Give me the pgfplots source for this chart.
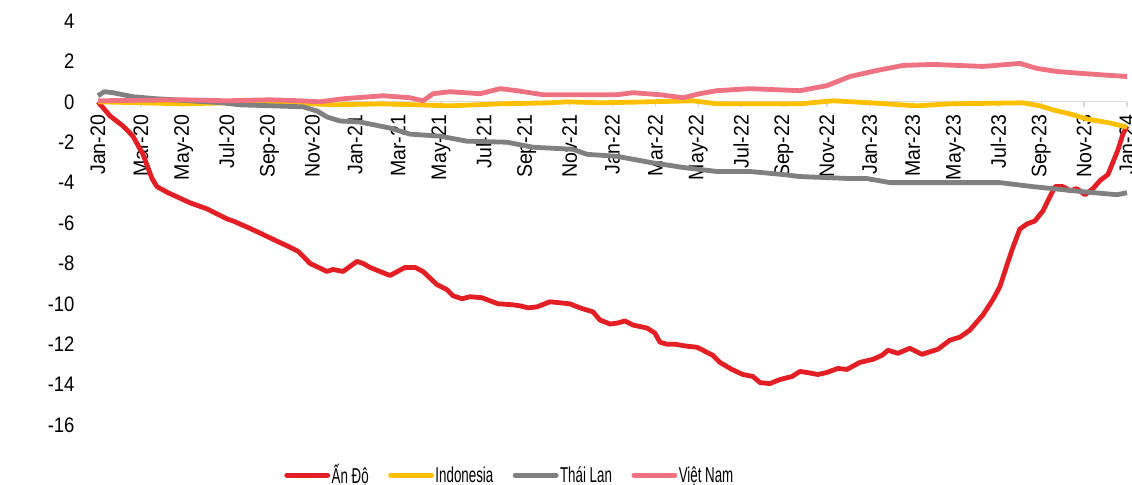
\documentclass[border=0pt]{standalone}
\usepackage{pgfplots}
\pgfplotsset{compat=1.18}
\usepackage{fontspec}
\setmainfont{Liberation Sans}[FakeStretch=0.88]
\newfontfamily\xfont{Liberation Sans}[FakeStretch=0.93]
\newfontfamily\legfont{Liberation Sans}[FakeStretch=0.62]

\definecolor{cIndia}{RGB}{227,30,36}
\definecolor{cIndo}{RGB}{255,192,0}
\definecolor{cThai}{RGB}{128,128,128}
\definecolor{cViet}{RGB}{239,114,130}

\begin{document}
\begin{tikzpicture}
\begin{axis}[
  name=ax,
  scale only axis,
  width=1029pt, height=404pt,
  xmin=0, xmax=48, ymin=-16, ymax=4,
  axis x line=middle,
  axis y line=left,
  hide obscured x ticks=false,
  x axis line style={-, draw=gray!30, line width=1.3pt},
  y axis line style={draw=none},
  xtick={0,2,...,48},
  xticklabels={Jan-20,Mar-20,May-20,Jul-20,Sep-20,Nov-20,
               Jan-21,Mar-21,May-21,Jul-21,Sep-21,Nov-21,
               Jan-22,Mar-22,May-22,Jul-22,Sep-22,Nov-22,
               Jan-23,Mar-23,May-23,Jul-23,Sep-23,Nov-23,Jan-24},
  x tick style={draw=gray!30, line width=1.3pt},
  tick align=outside,
  major tick length=5pt,
  xticklabel style={rotate=90, anchor=east, font=\xfont\fontsize{21}{25}\selectfont, inner sep=8pt},
  ytick={4,2,...,-16},
  y tick style={draw=none},
  yticklabel style={font=\fontsize{21}{25}\selectfont, xshift=-15pt},
  /pgf/number format/assume math mode=true,
  clip=false,
  legend columns=4,
  legend style={at={(0.4,-0.124)}, anchor=center, draw=none, fill=none,
    font=\legfont\fontsize{21.5}{25}\selectfont,
    nodes={inner sep=1.5pt},
    /tikz/every even column/.append style={column sep=18pt}},
  legend image code/.code={\draw[#1, line cap=round] (0pt,0pt) -- (41pt,0pt);},
  every axis plot/.append style={line width=4.8pt, line join=round, no marks},
]

% India
\addplot[cIndia] coordinates {
(0,0) (0.56,-0.7) (1.17,-1.2) (1.63,-1.7) (2.10,-2.6) (2.52,-3.8) (2.75,-4.2)
(3.26,-4.5) (3.68,-4.7) (4.29,-5.0) (5.08,-5.3) (6.02,-5.8) (6.30,-5.9)
(6.95,-6.2) (7.56,-6.5) (8.35,-6.9) (8.96,-7.2) (9.33,-7.4) (9.89,-8.0)
(10.68,-8.4) (10.96,-8.3) (11.43,-8.4) (12.08,-7.9) (12.36,-8.0) (12.69,-8.2)
(13.62,-8.6) (14.32,-8.2) (14.79,-8.2) (15.16,-8.4) (15.81,-9.05) (16.28,-9.3)
(16.56,-9.6) (16.98,-9.75) (17.35,-9.65) (17.91,-9.7) (18.28,-9.85) (18.66,-10.0)
(19.36,-10.05) (19.68,-10.1) (20.06,-10.2) (20.48,-10.15) (21.08,-9.9) (21.55,-9.95)
(22.01,-10.0) (22.48,-10.2) (23.09,-10.4) (23.41,-10.8) (23.88,-11.0) (24.25,-10.95)
(24.58,-10.85) (24.95,-11.05) (25.61,-11.2) (25.98,-11.45) (26.21,-11.9) (26.54,-12.0)
(26.91,-12.0) (27.47,-12.1) (27.94,-12.15) (28.68,-12.55) (29.01,-12.9) (29.57,-13.25)
(30.08,-13.5) (30.55,-13.6) (30.88,-13.9) (31.34,-13.95) (31.81,-13.75) (32.37,-13.6)
(32.74,-13.35) (33.07,-13.4) (33.58,-13.5) (34.00,-13.4) (34.51,-13.2) (34.93,-13.25)
(35.54,-12.9) (36.15,-12.75) (36.57,-12.55) (36.85,-12.3) (37.31,-12.45) (37.87,-12.2)
(38.43,-12.5) (39.18,-12.25) (39.74,-11.8) (40.21,-11.65) (40.67,-11.3) (41.28,-10.55)
(41.74,-9.8) (42.07,-9.15) (42.44,-7.95) (42.68,-7.2) (43.00,-6.3) (43.33,-6.05)
(43.70,-5.9) (44.08,-5.4) (44.40,-4.7) (44.64,-4.2) (45.01,-4.2) (45.34,-4.4)
(45.66,-4.3) (46.04,-4.6) (46.41,-4.3) (46.74,-3.9) (47.11,-3.6) (47.34,-3.0)
(47.57,-2.4) (47.81,-1.6) (48.0,-1.2)
};
\addlegendentry{Ấn Độ}

% Indonesia
\addplot[cIndo] coordinates {
(0,0) (2,-0.05) (4,-0.1) (6,-0.05) (8,-0.05) (10,-0.1) (10.96,-0.15)
(13.29,-0.1) (16.42,-0.2) (18.75,-0.1) (21.08,-0.05) (21.88,0) (23.41,-0.05)
(25.75,0) (27.75,0.05) (28.87,-0.1) (30.88,-0.1) (32.74,-0.1) (34.28,0.05)
(36.0,-0.05) (38.2,-0.2) (39.74,-0.1) (43.14,-0.05) (43.94,-0.2) (44.54,-0.4)
(45.34,-0.6) (46.13,-0.85) (47.2,-1.05) (48.0,-1.25)
};
\addlegendentry{Indonesia}

% Thailand
\addplot[cThai] coordinates {
(0,0.3) (0.3,0.5) (0.70,0.45) (1.63,0.25) (2.75,0.15) (4.29,0.05) (5.83,-0.05)
(6.62,-0.15) (8.16,-0.2) (9.56,-0.25) (10.21,-0.45) (10.68,-0.75) (11.29,-0.95)
(12.22,-1.0) (13.15,-1.2) (13.62,-1.3) (14.55,-1.6) (15.95,-1.7) (17.21,-1.95)
(19.08,-2.0) (20.29,-2.25) (22.15,-2.35) (22.81,-2.6) (24.21,-2.7) (25.75,-3.0)
(27.29,-3.25) (28.87,-3.45) (30.41,-3.45) (31.95,-3.6) (32.74,-3.7) (35.07,-3.8)
(35.87,-3.8) (36.94,-4.0) (39.74,-4.0) (42.07,-4.0) (43.61,-4.2) (45.94,-4.45)
(47.53,-4.6) (48.0,-4.5)
};
\addlegendentry{Thái Lan}

% Vietnam
\addplot[cViet] coordinates {
(0,0.05) (4,0.1) (6,0.05) (8,0.1) (9.42,0.05) (10.35,0.0) (11.43,0.15)
(13.29,0.3) (14.55,0.2) (15.16,0.05) (15.63,0.4) (16.42,0.5) (17.82,0.4)
(18.75,0.65) (19.54,0.55) (20.76,0.35) (22.62,0.35) (24.21,0.35) (24.95,0.45)
(26.21,0.35) (27.29,0.2) (28.07,0.4) (28.87,0.55) (30.41,0.65) (32.74,0.55)
(34.0,0.8) (35.07,1.25) (36.33,1.55) (37.55,1.8) (38.95,1.85) (41.28,1.75)
(43.0,1.9) (43.8,1.65) (44.73,1.5) (45.94,1.4) (48.0,1.25)
};
\addlegendentry{Việt Nam}
\end{axis}
\pgfresetboundingbox
\path (ax.south west) ++(-98pt,-59pt) coordinate (bbA);
\path (ax.north east) ++(5pt,21pt) coordinate (bbB);
\useasboundingbox (bbA) rectangle (bbB);
\end{tikzpicture}
\end{document}
